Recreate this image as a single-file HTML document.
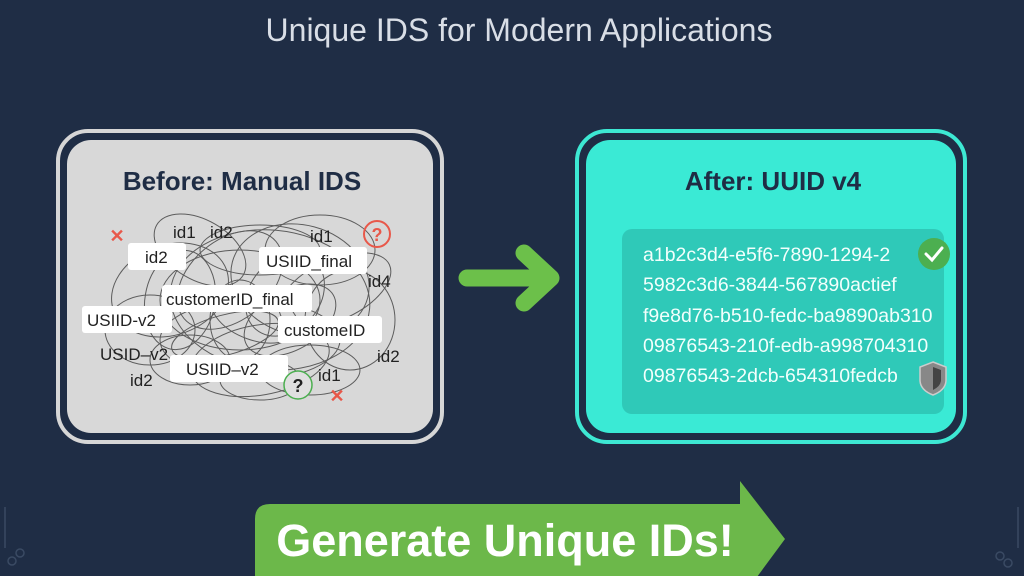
<!DOCTYPE html>
<html><head><meta charset="utf-8"><style>
html,body{margin:0;padding:0;background:#1f2d45;}
body{width:1024px;height:576px;overflow:hidden;position:relative;font-family:"Liberation Sans",sans-serif;}
</style></head><body>
<svg width="1024" height="576" viewBox="0 0 1024 576" xmlns="http://www.w3.org/2000/svg" style="position:absolute;left:0;top:0">
<rect width="1024" height="576" fill="#1f2d45"/>
<text x="519" y="41" text-anchor="middle" font-family="Liberation Sans" font-size="32" fill="#d9dee6">Unique IDS for Modern Applications</text>
<!-- left panel -->
<rect x="58" y="131" width="384" height="311" rx="30" fill="#1f2d45" stroke="#d6d6d6" stroke-width="4"/>
<rect x="67" y="140" width="366" height="293" rx="24" fill="#d8d8d8"/>
<text x="242" y="190" text-anchor="middle" font-family="Liberation Sans" font-weight="bold" font-size="26" fill="#1f2d45">Before: Manual IDS</text>
<g fill="none" stroke="#333" stroke-width="1" opacity="0.75">
<ellipse cx="170" cy="290" rx="60" ry="45" transform="rotate(-20 170 290)"/>
<ellipse cx="240" cy="300" rx="80" ry="50"/>
<ellipse cx="300" cy="280" rx="70" ry="55" transform="rotate(15 300 280)"/>
<ellipse cx="250" cy="340" rx="90" ry="40"/>
<ellipse cx="200" cy="250" rx="50" ry="30" transform="rotate(30 200 250)"/>
<ellipse cx="320" cy="250" rx="55" ry="35"/>
<ellipse cx="350" cy="320" rx="45" ry="50"/>
<ellipse cx="150" cy="330" rx="45" ry="35"/>
<ellipse cx="260" cy="360" rx="70" ry="35" transform="rotate(-10 260 360)"/>
<ellipse cx="230" cy="280" rx="40" ry="60" transform="rotate(50 230 280)"/>
<ellipse cx="290" cy="320" rx="50" ry="30" transform="rotate(-30 290 320)"/>
<ellipse cx="190" cy="360" rx="40" ry="25"/>
<ellipse cx="310" cy="370" rx="50" ry="25"/>
<ellipse cx="260" cy="250" rx="60" ry="25"/>
<ellipse cx="240" cy="320" rx="30" ry="40"/>
<ellipse cx="270" cy="300" rx="100" ry="70" transform="rotate(5 270 300)"/>
<ellipse cx="255" cy="315" rx="45" ry="25" transform="rotate(20 255 315)"/>
<ellipse cx="225" cy="335" rx="55" ry="20" transform="rotate(-15 225 335)"/>
<ellipse cx="285" cy="295" rx="35" ry="45" transform="rotate(40 285 295)"/>
<ellipse cx="335" cy="290" rx="60" ry="30" transform="rotate(-25 335 290)"/>
<ellipse cx="180" cy="300" rx="35" ry="50" transform="rotate(10 180 300)"/>
<ellipse cx="260" cy="380" rx="40" ry="20"/>
</g>
<g font-family="Liberation Sans" font-size="17" fill="#222">
<text x="173" y="238">id1</text><text x="210" y="238">id2</text>
<text x="310" y="242">id1</text><text x="368" y="287">id4</text>
<text x="100" y="360">USID–v2</text><text x="130" y="386">id2</text>
<text x="377" y="362">id2</text><text x="318" y="381">id1</text>
</g>
<g fill="#fff"><rect x="128" y="243" width="58" height="27" rx="3"/><rect x="259" y="247" width="108" height="27" rx="3"/><rect x="162" y="285" width="150" height="27" rx="3"/><rect x="82" y="306" width="90" height="27" rx="3"/><rect x="278" y="316" width="104" height="27" rx="3"/><rect x="170" y="355" width="118" height="27" rx="3"/></g>
<g font-family="Liberation Sans" font-size="17" fill="#222">
<text x="145" y="263">id2</text><text x="266" y="267">USIID_final</text><text x="166" y="305">customerID_final</text><text x="87" y="326">USIID-v2</text><text x="284" y="336">customeID</text><text x="186" y="375">USIID–v2</text>
</g>
<circle cx="377" cy="234" r="13" fill="none" stroke="#e8584a" stroke-width="2"/>
<text x="377" y="241" text-anchor="middle" font-family="Liberation Sans" font-weight="bold" font-size="18" fill="#e8584a">?</text>
<circle cx="298" cy="385" r="14" fill="#e0e0e0" stroke="#4caf50" stroke-width="1.5"/>
<text x="298" y="392" text-anchor="middle" font-family="Liberation Sans" font-weight="bold" font-size="18" fill="#222">?</text>
<text x="117" y="242" text-anchor="middle" font-family="Liberation Sans" font-weight="bold" font-size="18" fill="#e8584a">✕</text>
<text x="337" y="402" text-anchor="middle" font-family="Liberation Sans" font-weight="bold" font-size="18" fill="#e8584a">✕</text>
<!-- middle arrow -->
<g stroke="#6cc04a" stroke-width="17" stroke-linecap="round" stroke-linejoin="round" fill="none">
<line x1="467" y1="278" x2="550" y2="278"/><polyline points="524,253 551,278 524,303"/>
</g>
<!-- right panel -->
<rect x="577" y="131" width="388" height="311" rx="30" fill="#1f2d45" stroke="#3de8d3" stroke-width="4"/>
<rect x="586" y="140" width="370" height="293" rx="24" fill="#3aead5"/>
<text x="773" y="190" text-anchor="middle" font-family="Liberation Sans" font-weight="bold" font-size="26" fill="#1f2d45">After: UUID v4</text>
<rect x="622" y="229" width="322" height="185" rx="10" fill="#2fc9b8"/>
<g font-family="Liberation Sans" font-size="19.5" fill="#f2fffc">
<text x="643" y="261">a1b2c3d4-e5f6-7890-1294-2</text>
<text x="643" y="291">5982c3d6-3844-567890actief</text>
<text x="643" y="322">f9e8d76-b510-fedc-ba9890ab310</text>
<text x="643" y="352">09876543-210f-edb-a998704310</text>
<text x="643" y="382">09876543-2dcb-654310fedcb</text>
</g>
<circle cx="934" cy="254" r="16" fill="#4caf50"/>
<polyline points="926,254 932,260 942,248" fill="none" stroke="#fff" stroke-width="3" stroke-linecap="round"/>
<path d="M933,362 L946,367 L946,380 Q946,390 933,395 Q920,390 920,380 L920,367 Z" fill="#888" stroke="#ccc" stroke-width="1.5"/>
<path d="M933,367 L941,370 L941,380 Q941,386 933,390 Z" fill="#444"/>
<!-- bottom banner -->
<path d="M270,504 L740,504 L740,481 L785,539 L740,600 L270,600 Q255,600 255,585 L255,519 Q255,504 270,504 Z" fill="#6cb84a"/>
<text x="505" y="556" text-anchor="middle" font-family="Liberation Sans" font-weight="bold" font-size="45" fill="#fff">Generate Unique IDs!</text>
<g stroke="#3a4a63" stroke-width="1.5" fill="none">
<line x1="5" y1="507" x2="5" y2="548"/><circle cx="12" cy="561" r="4"/><circle cx="20" cy="553" r="4"/>
<line x1="1018" y1="507" x2="1018" y2="548"/><circle cx="1000" cy="556" r="4"/><circle cx="1008" cy="563" r="4"/>
</g>
</svg>
</body></html>
